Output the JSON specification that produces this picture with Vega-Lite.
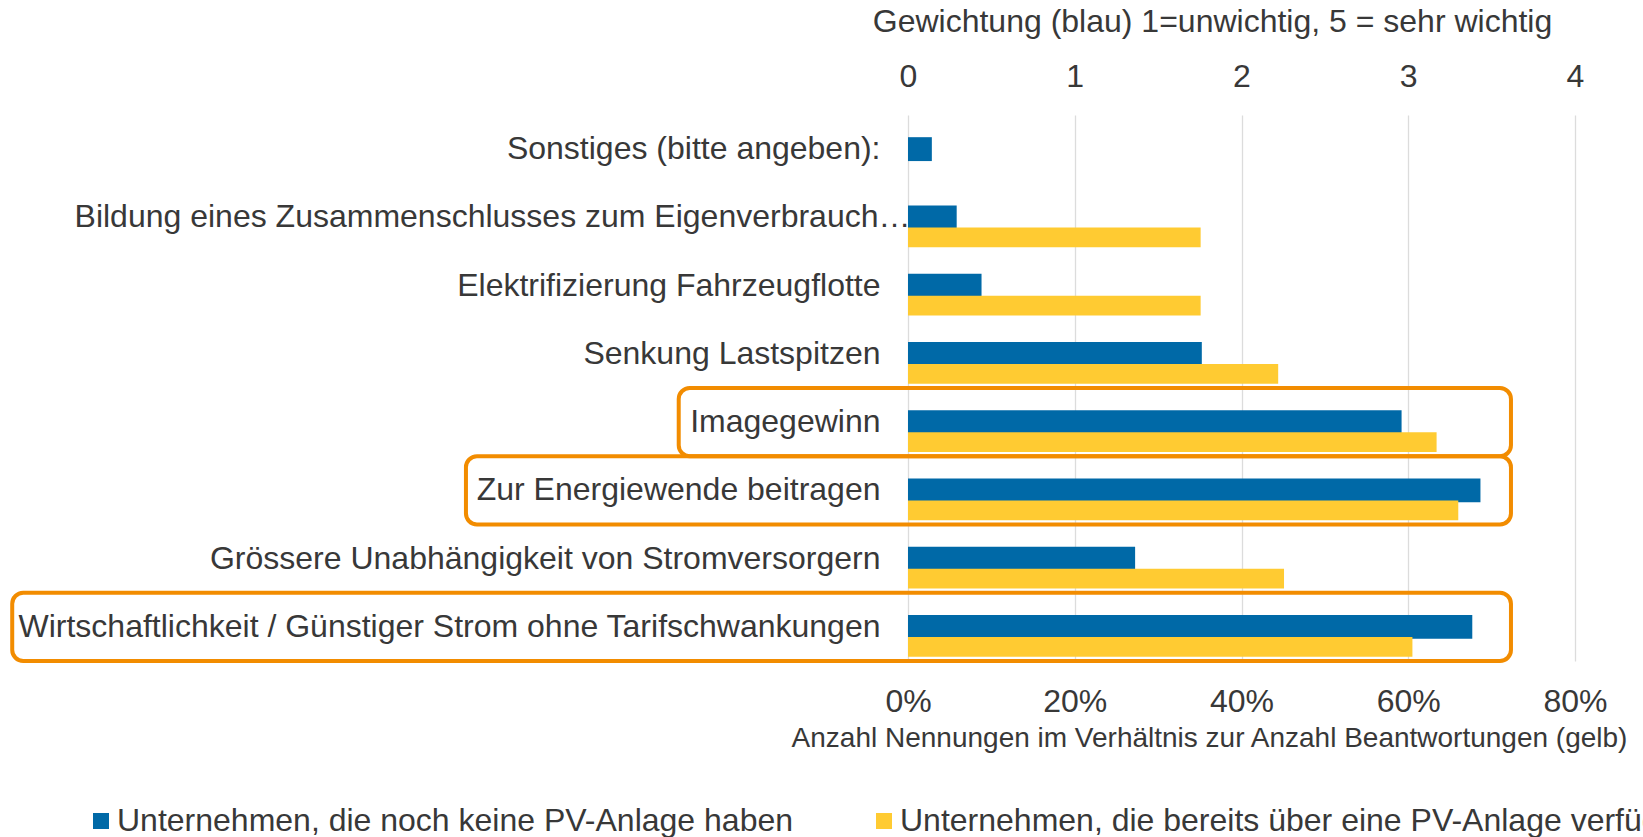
{
  "$schema": "https://vega.github.io/schema/vega-lite/v6.json",
  "width": 667,
  "height": 546,
  "autosize": {"type": "none"},
  "padding": {"left": 908, "top": 115, "right": 68, "bottom": 176},
  "background": "white",
  "config": {
    "font": "Liberation Sans",
    "view": {"stroke": null},
    "axis": {"labelColor": "#383838", "titleColor": "#383838", "labelFont": "Liberation Sans", "titleFont": "Liberation Sans", "titleFontWeight": "normal", "labelFlush": false},
    "legend": {"labelFont": "Liberation Sans"}
  },
  "datasets": {
    "bars": [
      {"kategorie": "Sonstiges (bitte angeben):", "gruppe": "Unternehmen, die noch keine PV-Anlage haben", "wert": 0.143},
      {"kategorie": "Bildung eines Zusammenschlusses zum Eigenverbrauch…", "gruppe": "Unternehmen, die noch keine PV-Anlage haben", "wert": 0.292},
      {"kategorie": "Elektrifizierung Fahrzeugflotte", "gruppe": "Unternehmen, die noch keine PV-Anlage haben", "wert": 0.441},
      {"kategorie": "Senkung Lastspitzen", "gruppe": "Unternehmen, die noch keine PV-Anlage haben", "wert": 1.762},
      {"kategorie": "Imagegewinn", "gruppe": "Unternehmen, die noch keine PV-Anlage haben", "wert": 2.96},
      {"kategorie": "Zur Energiewende beitragen", "gruppe": "Unternehmen, die noch keine PV-Anlage haben", "wert": 3.433},
      {"kategorie": "Grössere Unabhängigkeit von Stromversorgern", "gruppe": "Unternehmen, die noch keine PV-Anlage haben", "wert": 1.362},
      {"kategorie": "Wirtschaftlichkeit / Günstiger Strom ohne Tarifschwankungen", "gruppe": "Unternehmen, die noch keine PV-Anlage haben", "wert": 3.384},
      {"kategorie": "Bildung eines Zusammenschlusses zum Eigenverbrauch…", "gruppe": "Unternehmen, die bereits über eine PV-Anlage verfügen", "wert": 0.351},
      {"kategorie": "Elektrifizierung Fahrzeugflotte", "gruppe": "Unternehmen, die bereits über eine PV-Anlage verfügen", "wert": 0.351},
      {"kategorie": "Senkung Lastspitzen", "gruppe": "Unternehmen, die bereits über eine PV-Anlage verfügen", "wert": 0.444},
      {"kategorie": "Imagegewinn", "gruppe": "Unternehmen, die bereits über eine PV-Anlage verfügen", "wert": 0.634},
      {"kategorie": "Zur Energiewende beitragen", "gruppe": "Unternehmen, die bereits über eine PV-Anlage verfügen", "wert": 0.66},
      {"kategorie": "Grössere Unabhängigkeit von Stromversorgern", "gruppe": "Unternehmen, die bereits über eine PV-Anlage verfügen", "wert": 0.451},
      {"kategorie": "Wirtschaftlichkeit / Günstiger Strom ohne Tarifschwankungen", "gruppe": "Unternehmen, die bereits über eine PV-Anlage verfügen", "wert": 0.605}
    ],
    "boxes": [
      {"kategorie": "Imagegewinn", "von": -1.375, "bis": 3.616},
      {"kategorie": "Zur Energiewende beitragen", "von": -2.651, "bis": 3.616},
      {"kategorie": "Wirtschaftlichkeit / Günstiger Strom ohne Tarifschwankungen", "von": -5.372, "bis": 3.616}
    ]
  },
  "layer": [
    {
      "data": {"name": "bars"},
      "transform": [{"filter": "datum.gruppe === 'Unternehmen, die noch keine PV-Anlage haben'"}],
      "mark": {"type": "bar", "height": {"band": 0.35}},
      "encoding": {
        "y": {
          "field": "kategorie", "type": "nominal",
          "sort": ["Sonstiges (bitte angeben):", "Bildung eines Zusammenschlusses zum Eigenverbrauch…", "Elektrifizierung Fahrzeugflotte", "Senkung Lastspitzen", "Imagegewinn", "Zur Energiewende beitragen", "Grössere Unabhängigkeit von Stromversorgern", "Wirtschaftlichkeit / Günstiger Strom ohne Tarifschwankungen"],
          "scale": {"paddingInner": 0, "paddingOuter": 0},
          "axis": {"title": null, "domain": false, "ticks": false, "labelFontSize": 32, "labelPadding": {"condition": {"test": "indexof(datum.value, 'Bildung') === 0", "value": -2}, "value": 28}, "labelLimit": 1200}
        },
        "x": {
          "field": "wert", "type": "quantitative",
          "scale": {"domain": [0, 4], "nice": false},
          "axis": {"orient": "top", "values": [0, 1, 2, 3, 4], "title": "Gewichtung (blau) 1=unwichtig, 5 = sehr wichtig", "titleFontSize": 32, "labelFontSize": 32, "grid": true, "gridColor": "#dcdcdc", "gridWidth": 1.3, "domain": false, "ticks": false, "labelPadding": 22, "titlePadding": 22, "titleX": 304, "titleAlign": "center"}
        },
        "color": {
          "field": "gruppe", "type": "nominal",
          "scale": {"domain": ["Unternehmen, die noch keine PV-Anlage haben", "Unternehmen, die bereits über eine PV-Anlage verfügen"], "range": ["#0069A7", "#FFCB32"]},
          "legend": {"orient": "none", "legendX": -823, "legendY": 690, "direction": "horizontal", "title": null, "symbolType": "square", "symbolSize": 256, "symbolStrokeWidth": 0, "labelFontSize": 32, "labelLimit": 2000, "columnPadding": 74, "labelOffset": 0, "padding": 0, "labelColor": "#383838"}
        }
      }
    },
    {
      "data": {"name": "bars"},
      "transform": [{"filter": "datum.gruppe === 'Unternehmen, die bereits über eine PV-Anlage verfügen'"}],
      "mark": {"type": "bar", "height": {"band": 0.288}, "yOffset": 20},
      "encoding": {
        "y": {
          "field": "kategorie", "type": "nominal",
          "sort": ["Sonstiges (bitte angeben):", "Bildung eines Zusammenschlusses zum Eigenverbrauch…", "Elektrifizierung Fahrzeugflotte", "Senkung Lastspitzen", "Imagegewinn", "Zur Energiewende beitragen", "Grössere Unabhängigkeit von Stromversorgern", "Wirtschaftlichkeit / Günstiger Strom ohne Tarifschwankungen"]
        },
        "x": {
          "field": "wert", "type": "quantitative",
          "scale": {"domain": [0, 0.8], "nice": false},
          "axis": {"orient": "bottom", "values": [0, 0.2, 0.4, 0.6, 0.8], "format": ".0%", "title": "Anzahl Nennungen im Verhältnis zur Anzahl Beantwortungen (gelb)", "titleFontSize": 28, "labelFontSize": 32, "grid": false, "domain": false, "ticks": false, "labelPadding": 25, "titlePadding": 7, "titleX": 301, "titleAlign": "center"}
        },
        "color": {"field": "gruppe", "type": "nominal"}
      }
    },
    {
      "data": {"name": "boxes"},
      "mark": {"type": "rect", "fill": null, "stroke": "#F28C00", "strokeWidth": 4, "cornerRadius": 11},
      "encoding": {
        "y": {
          "field": "kategorie", "type": "nominal",
          "sort": ["Sonstiges (bitte angeben):", "Bildung eines Zusammenschlusses zum Eigenverbrauch…", "Elektrifizierung Fahrzeugflotte", "Senkung Lastspitzen", "Imagegewinn", "Zur Energiewende beitragen", "Grössere Unabhängigkeit von Stromversorgern", "Wirtschaftlichkeit / Günstiger Strom ohne Tarifschwankungen"]
        },
        "x": {"field": "von", "type": "quantitative", "scale": {"domain": [0, 4], "nice": false, "zero": false}, "axis": null},
        "x2": {"field": "bis"}
      }
    }
  ],
  "resolve": {"scale": {"x": "independent"}, "axis": {"x": "independent"}}
}
